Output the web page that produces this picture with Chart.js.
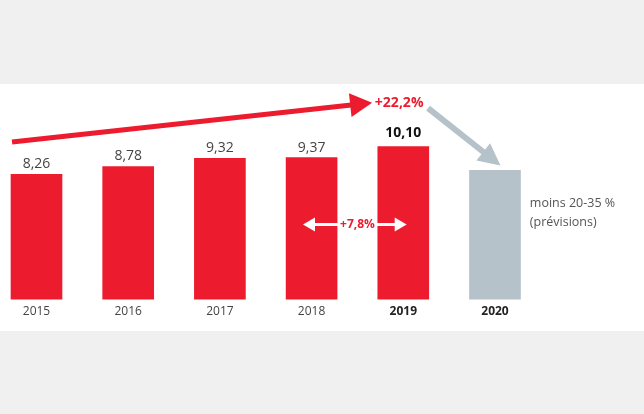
<!DOCTYPE html>
<html>
<head>
<meta charset="utf-8">
<script src="https://cdn.jsdelivr.net/npm/chart.js@4.4.0/dist/chart.umd.min.js"></script>
<style>
  html, body { margin: 0; padding: 0; background: #f0f0f0; }
  canvas { display: block; }
</style>
</head>
<body>
<canvas id="chart" width="644" height="414"></canvas>
<script>
// data
const years = ['2015', '2016', '2017', '2018', '2019', '2020'];
const values = [8.26, 8.78, 9.32, 9.37, 10.10, 8.52];
const valueLabels = ['8,26', '8,78', '9,32', '9,37', '10,10', ''];
const forecastNote = ['moins 20-35 %', '(prévisions)'];
const growthTotal = '+22,2%';
const growthLast = '+7,8%';

const RED = '#ed1b2e';
const GREY = '#b6c2c9';

function drawArrow(ctx, x1, y1, x2, y2, width, headLen, headHalf, color) {
    const a = Math.atan2(y2 - y1, x2 - x1);
    const bx = x2 - headLen * Math.cos(a);
    const by = y2 - headLen * Math.sin(a);
    ctx.save();
    ctx.strokeStyle = color;
    ctx.fillStyle = color;
    ctx.lineWidth = width;
    ctx.lineCap = 'butt';
    ctx.beginPath();
    ctx.moveTo(x1, y1);
    ctx.lineTo(bx + Math.cos(a), by + Math.sin(a));
    ctx.stroke();
    ctx.beginPath();
    ctx.moveTo(x2, y2);
    ctx.lineTo(bx + headHalf * Math.sin(a), by - headHalf * Math.cos(a));
    ctx.lineTo(bx - headHalf * Math.sin(a), by + headHalf * Math.cos(a));
    ctx.closePath();
    ctx.fill();
    ctx.restore();
}

const backdrop = {
    id: 'backdrop',
    beforeDraw(chart) {
        const ctx = chart.ctx;
        ctx.save();
        ctx.fillStyle = '#f0f0f0';
        ctx.fillRect(0, 0, chart.width, chart.height);
        ctx.fillStyle = '#ffffff';
        ctx.fillRect(0, 84, chart.width, 247);
        ctx.restore();
    }
};

const annotations = {
    id: 'annotations',
    afterDatasetsDraw(chart) {
        const ctx = chart.ctx;
        const xs = chart.scales.x;
        const ys = chart.scales.y;
        const meta = chart.getDatasetMeta(0);

        // value labels above the bars
        meta.data.forEach((bar, i) => {
            if (!valueLabels[i]) return;
            ctx.save();
            ctx.textAlign = 'center';
            ctx.textBaseline = 'middle';
            if (i === 4) {
                ctx.font = 'bold 14px "Open Sans"';
                ctx.fillStyle = '#111';
                ctx.fillText(valueLabels[i], bar.x, bar.y - 13);
            } else {
                ctx.font = '14px "Open Sans"';
                ctx.fillStyle = '#444';
                ctx.fillText(valueLabels[i], bar.x, bar.y - 10);
            }
            ctx.restore();
        });

        // long red growth arrow
        drawArrow(ctx, xs.getPixelForValue(-0.267), ys.getPixelForValue(10.4),
            xs.getPixelForValue(3.66), ys.getPixelForValue(12.98), 5, 22, 12, RED);
        ctx.save();
        ctx.font = 'bold 14px "Open Sans"';
        ctx.fillStyle = RED;
        ctx.textAlign = 'left';
        ctx.textBaseline = 'middle';
        ctx.fillText(growthTotal, xs.getPixelForValue(3.69), ys.getPixelForValue(12.95));
        ctx.restore();

        // grey arrow down to the forecast
        drawArrow(ctx, xs.getPixelForValue(4.27), ys.getPixelForValue(12.63),
            xs.getPixelForValue(5.06), ys.getPixelForValue(8.84), 6, 22, 11, GREY);

        // white double arrow between 2018 and 2019
        const yMid = ys.getPixelForValue(4.95);
        const xl = xs.getPixelForValue(2.906);
        const xr = xs.getPixelForValue(4.037);
        const xm = xs.getPixelForValue(3.5);
        drawArrow(ctx, xm, yMid, xl, yMid, 3, 12, 7, '#ffffff');
        drawArrow(ctx, xm, yMid, xr, yMid, 3, 12, 7, '#ffffff');
        ctx.save();
        ctx.font = 'bold 12px "Open Sans"';
        ctx.textAlign = 'center';
        ctx.textBaseline = 'middle';
        ctx.fillStyle = RED;
        ctx.fillText(growthLast, xm, yMid);
        ctx.restore();

        // forecast note
        ctx.save();
        ctx.font = '12.5px "Open Sans"';
        ctx.fillStyle = '#555';
        ctx.textAlign = 'left';
        ctx.textBaseline = 'middle';
        const nx = xs.getPixelForValue(5.38);
        ctx.fillText(forecastNote[0], nx, ys.getPixelForValue(6.33));
        ctx.fillText(forecastNote[1], nx, ys.getPixelForValue(5.07));
        ctx.restore();
    }
};

new Chart(document.getElementById('chart'), {
    type: 'bar',
    data: {
        datasets: [{
            data: values.map((v, i) => ({ x: i, y: v })),
            backgroundColor: values.map((v, i) => i === 5 ? GREY : RED),
            borderWidth: 0,
            barThickness: 51
        }]
    },
    options: {
        responsive: false,
        animation: false,
        events: [],
        layout: { padding: { top: 84, bottom: 90, left: 0, right: 0 } },
        plugins: {
            legend: { display: false },
            tooltip: { enabled: false }
        },
        scales: {
            x: {
                type: 'linear',
                offset: false,
                min: -0.398,
                max: 6.625,
                grid: { display: false, drawTicks: false, offset: false },
                border: { display: false },
                ticks: {
                    stepSize: 1,
                    includeBounds: false,
                    autoSkip: false,
                    maxRotation: 0,
                    padding: 5,
                    callback: v => (Number.isInteger(v) && years[v]) ? years[v] : '',
                    font: ctx => ({
                        family: '"Open Sans"',
                        size: 12,
                        weight: ctx.tick && ctx.tick.value >= 4 ? 'bold' : 'normal'
                    }),
                    color: ctx => ctx.tick && ctx.tick.value >= 4 ? '#222' : '#444'
                }
            },
            y: {
                display: false,
                min: 0,
                max: 14.22
            }
        }
    },
    plugins: [backdrop, annotations]
});
</script>
</body>
</html>
